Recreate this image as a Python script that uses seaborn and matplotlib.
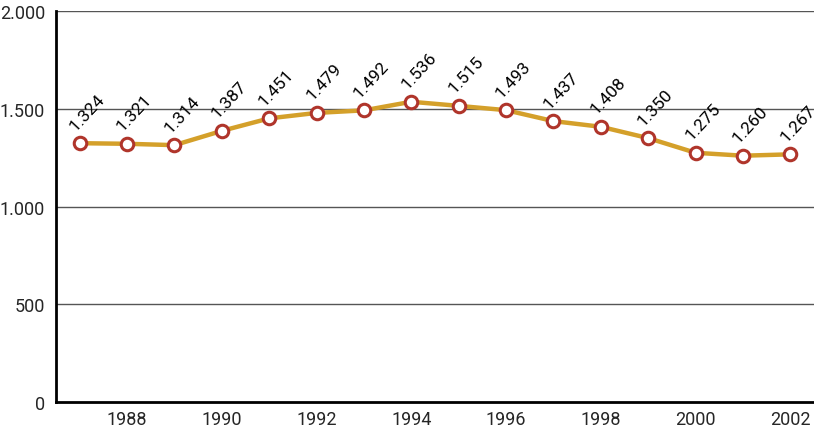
import matplotlib
matplotlib.use('Agg')
import matplotlib.pyplot as plt
import numpy as np
import pandas as pd
import seaborn as sns
from matplotlib.ticker import FuncFormatter

years = [1987, 1988, 1989, 1990, 1991, 1992, 1993, 1994,
         1995, 1996, 1997, 1998, 1999, 2000, 2001, 2002]
values = [1324, 1321, 1314, 1387, 1451, 1479, 1492, 1536,
          1515, 1493, 1437, 1408, 1350, 1275, 1260, 1267]
y_ticks = [0, 500, 1000, 1500, 2000]
x_labels = [1988, 1990, 1992, 1994, 1996, 1998, 2000, 2002]

df = pd.DataFrame({'year': years, 'value': values})

sns.set_style('white')
plt.rcParams['font.family'] = ['Roboto', 'DejaVu Sans']


def dotted(v, pos=None):
    return '{:,}'.format(int(v)).replace(',', '.')


fig = plt.figure(figsize=(8.14, 4.31), dpi=100)
ax = fig.add_axes([0.0688, 0.065, 0.9312, 0.907])

for t in y_ticks[1:]:
    ax.axhline(t, color='#555555', linewidth=1.0, zorder=1)

sns.lineplot(data=df, x='year', y='value', ax=ax, color='#D4A02A', linewidth=3.2,
             marker='o', markersize=9, markerfacecolor='white',
             markeredgecolor='#B0352B', markeredgewidth=2.2, zorder=3)

for x, y in zip(years, values):
    ax.annotate(dotted(y), (x, y), xytext=(-3, 9), textcoords='offset points',
                rotation=47, rotation_mode='anchor', ha='left', va='baseline',
                fontsize=12.5, color='black')

ax.set_xlim(1986.5, 2002.5)
ax.set_ylim(0, 2000)
ax.set_yticks(y_ticks)
ax.yaxis.set_major_formatter(FuncFormatter(dotted))
ax.set_xticks(years)
ax.set_xticklabels([str(y) if y in x_labels else '' for y in years])
ax.tick_params(axis='y', direction='in', length=13, width=2, color='black',
               labelsize=13, pad=8)
ax.tick_params(axis='x', direction='in', length=6.5, width=1.5, color='black',
               labelsize=13, pad=6)
ax.set_xlabel('')
ax.set_ylabel('')

sns.despine(ax=ax, top=True, right=True)
for side in ['left', 'bottom']:
    ax.spines[side].set_linewidth(2)
    ax.spines[side].set_color('black')
ax.spines['bottom'].set_zorder(5)

fig.savefig('out.png', dpi=100)
